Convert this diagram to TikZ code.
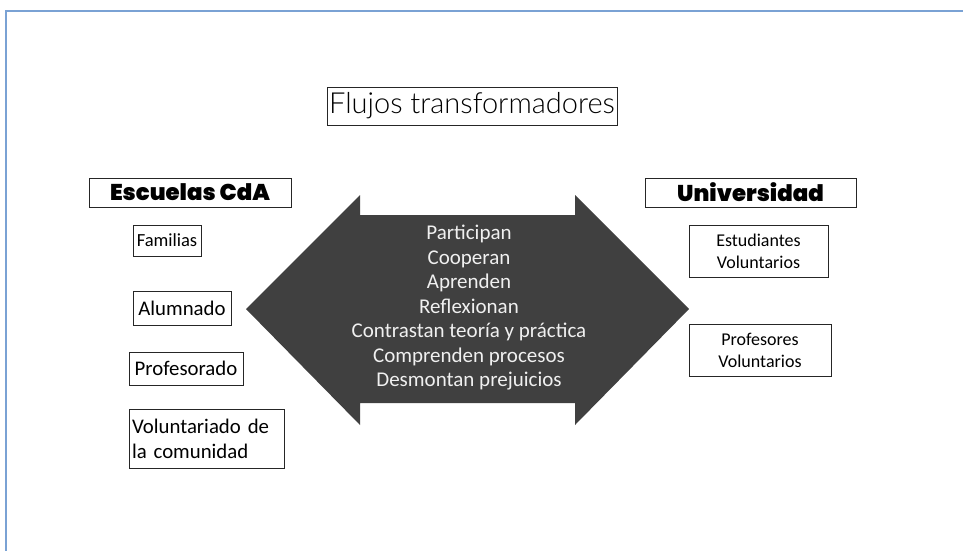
\documentclass[tikz,border=0pt]{standalone}
\usepackage{fontspec}
\setmainfont{Carlito}
\newfontfamily\hvyfont{Poppins Black}
\newfontfamily\lightfont{Lato Light}
\definecolor{framecol}{RGB}{122,162,212}
\definecolor{arrowcol}{RGB}{64,64,64}
\definecolor{arrowtext}{RGB}{240,240,240}
\tikzset{
  box/.style={draw=black!85, line width=0.9pt, inner sep=0pt, align=center},
  hdr/.style={box, font=\hvyfont\fontsize{22.8}{24}\selectfont},
  item/.style={box, font=\fontsize{20.8}{25}\selectfont},
}
\begin{document}
\begin{tikzpicture}[x=1pt,y=-1pt]
\useasboundingbox (0,0) rectangle (963,550);
% frame
\draw[framecol, line width=2pt] (6,560) -- (6,11) -- (970,11);
% title
\node[box, minimum width=290pt, minimum height=38pt, font=\lightfont\fontsize{29}{32}\selectfont] (title) at (472,106) {Flujos transformadores};
% headers
\node[hdr, minimum width=202pt, minimum height=29pt] (esc) at (190,192.5) {Escuelas CdA};
\node[hdr, minimum width=211pt, minimum height=29pt] (uni) at (750.5,192.5) {Universidad};
% left items
\node[item, minimum width=68pt, minimum height=31pt, font=\fontsize{18.5}{20}\selectfont] (fam) at (167,240.5) {Familias};
\node[item, minimum width=98pt, minimum height=34pt] (alu) at (182,308) {Alumnado};
\node[item, minimum width=114pt, minimum height=33pt] (pro) at (186,368.5) {Profesorado};
\node[item, minimum width=155pt, minimum height=59pt, align=left, text width=149pt] (vol) at (206.5,438.5) {Voluntariado de\\la comunidad};
% right items
\node[item, minimum width=139pt, minimum height=52pt, font=\fontsize{18}{22}\selectfont] (est) at (758.5,251) {Estudiantes\\Voluntarios};
\node[item, minimum width=142pt, minimum height=52pt, font=\fontsize{18}{22}\selectfont] (prv) at (760,350) {Profesores\\Voluntarios};
% double arrow
\fill[arrowcol] (246,309) -- (360,195) -- (360,215) -- (575,215) -- (575,195) -- (689,309)
  -- (575,425) -- (575,403) -- (360,403) -- (360,425) -- cycle;
\node[align=center, text=arrowtext, font=\fontsize{21}{24.5}\selectfont, inner sep=0pt] (mid) at (469,308)
  {Participan\\Cooperan\\Aprenden\\Reflexionan\\Contrastan teoría y práctica\\Comprenden procesos\\Desmontan prejuicios};
\end{tikzpicture}
\end{document}
